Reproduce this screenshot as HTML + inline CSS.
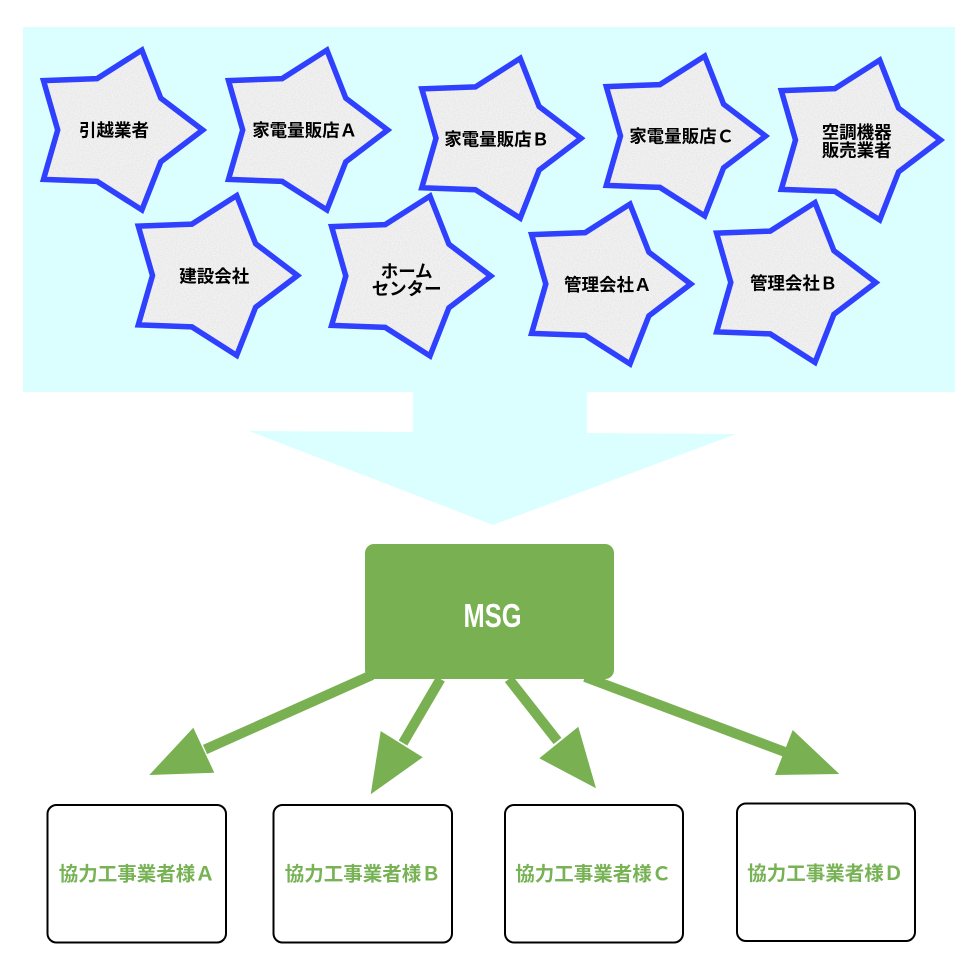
<!DOCTYPE html>
<html><head><meta charset="utf-8">
<style>
html,body{margin:0;padding:0;background:#fff;}
svg{display:block;}
text{font-family:"Liberation Sans","Noto Sans CJK JP",sans-serif;font-weight:bold;}
</style></head>
<body>
<svg width="970" height="960" viewBox="0 0 970 960" xmlns="http://www.w3.org/2000/svg">
<defs>
<filter id="tex" x="-5%" y="-5%" width="110%" height="110%">
<feTurbulence type="fractalNoise" baseFrequency="0.85" numOctaves="2" seed="3" result="n"/>
<feColorMatrix in="n" type="matrix" values="0.22 0 0 0 0.74  0.22 0 0 0 0.74  0.22 0 0 0 0.74  0 0 0 0 1" result="g"/>
<feComposite in="g" in2="SourceGraphic" operator="in"/>
</filter>
</defs>

<!-- cyan panel -->
<rect x="23" y="27" width="932" height="365" fill="#dbffff"/>
<polygon points="413,391 587,391 587,433 736,434 493,525 249,431 413,432" fill="#dbffff"/>

<!-- stars -->
<g stroke="none">
<g transform="translate(114.7,130)"><polygon filter="url(#tex)" fill="#000" points="88,0 46.1,31.8 27.2,79.9 -17.6,51.4 -71.2,49.4 -57,0 -71.2,-49.4 -17.6,-51.4 27.2,-79.9 46.1,-31.8"/></g>
<g transform="translate(299.7,130)"><polygon filter="url(#tex)" fill="#000" points="88,0 46.1,31.8 27.2,79.9 -17.6,51.4 -71.2,49.4 -57,0 -71.2,-49.4 -17.6,-51.4 27.2,-79.9 46.1,-31.8"/></g>
<g transform="translate(493,138.3)"><polygon filter="url(#tex)" fill="#000" points="88,0 46.1,31.8 27.2,79.9 -17.6,51.4 -71.2,49.4 -57,0 -71.2,-49.4 -17.6,-51.4 27.2,-79.9 46.1,-31.8"/></g>
<g transform="translate(677.5,136)"><polygon filter="url(#tex)" fill="#000" points="88,0 46.1,31.8 27.2,79.9 -17.6,51.4 -71.2,49.4 -57,0 -71.2,-49.4 -17.6,-51.4 27.2,-79.9 46.1,-31.8"/></g>
<g transform="translate(852.5,140)"><polygon filter="url(#tex)" fill="#000" points="88,0 46.1,31.8 27.2,79.9 -17.6,51.4 -71.2,49.4 -57,0 -71.2,-49.4 -17.6,-51.4 27.2,-79.9 46.1,-31.8"/></g>
<g transform="translate(209.5,275.5)"><polygon filter="url(#tex)" fill="#000" points="88,0 46.1,31.8 27.2,79.9 -17.6,51.4 -71.2,49.4 -57,0 -71.2,-49.4 -17.6,-51.4 27.2,-79.9 46.1,-31.8"/></g>
<g transform="translate(402.8,276)"><polygon filter="url(#tex)" fill="#000" points="88,0 46.1,31.8 27.2,79.9 -17.6,51.4 -71.2,49.4 -57,0 -71.2,-49.4 -17.6,-51.4 27.2,-79.9 46.1,-31.8"/></g>
<g transform="translate(602.8,284)"><polygon filter="url(#tex)" fill="#000" points="88,0 46.1,31.8 27.2,79.9 -17.6,51.4 -71.2,49.4 -57,0 -71.2,-49.4 -17.6,-51.4 27.2,-79.9 46.1,-31.8"/></g>
<g transform="translate(787.8,282.5)"><polygon filter="url(#tex)" fill="#000" points="88,0 46.1,31.8 27.2,79.9 -17.6,51.4 -71.2,49.4 -57,0 -71.2,-49.4 -17.6,-51.4 27.2,-79.9 46.1,-31.8"/></g>
</g>
<g fill="none" stroke="#2f40ff" stroke-width="5.5" stroke-linejoin="miter">
<polygon transform="translate(114.7,130)" points="88,0 46.1,31.8 27.2,79.9 -17.6,51.4 -71.2,49.4 -57,0 -71.2,-49.4 -17.6,-51.4 27.2,-79.9 46.1,-31.8"/>
<polygon transform="translate(299.7,130)" points="88,0 46.1,31.8 27.2,79.9 -17.6,51.4 -71.2,49.4 -57,0 -71.2,-49.4 -17.6,-51.4 27.2,-79.9 46.1,-31.8"/>
<polygon transform="translate(493,138.3)" points="88,0 46.1,31.8 27.2,79.9 -17.6,51.4 -71.2,49.4 -57,0 -71.2,-49.4 -17.6,-51.4 27.2,-79.9 46.1,-31.8"/>
<polygon transform="translate(677.5,136)" points="88,0 46.1,31.8 27.2,79.9 -17.6,51.4 -71.2,49.4 -57,0 -71.2,-49.4 -17.6,-51.4 27.2,-79.9 46.1,-31.8"/>
<polygon transform="translate(852.5,140)" points="88,0 46.1,31.8 27.2,79.9 -17.6,51.4 -71.2,49.4 -57,0 -71.2,-49.4 -17.6,-51.4 27.2,-79.9 46.1,-31.8"/>
<polygon transform="translate(209.5,275.5)" points="88,0 46.1,31.8 27.2,79.9 -17.6,51.4 -71.2,49.4 -57,0 -71.2,-49.4 -17.6,-51.4 27.2,-79.9 46.1,-31.8"/>
<polygon transform="translate(402.8,276)" points="88,0 46.1,31.8 27.2,79.9 -17.6,51.4 -71.2,49.4 -57,0 -71.2,-49.4 -17.6,-51.4 27.2,-79.9 46.1,-31.8"/>
<polygon transform="translate(602.8,284)" points="88,0 46.1,31.8 27.2,79.9 -17.6,51.4 -71.2,49.4 -57,0 -71.2,-49.4 -17.6,-51.4 27.2,-79.9 46.1,-31.8"/>
<polygon transform="translate(787.8,282.5)" points="88,0 46.1,31.8 27.2,79.9 -17.6,51.4 -71.2,49.4 -57,0 -71.2,-49.4 -17.6,-51.4 27.2,-79.9 46.1,-31.8"/>
</g>

<!-- star labels -->
<g fill="#000" font-size="17.5" text-anchor="middle">
<text x="114" y="136.7">引越業者</text>
<text x="304.7" y="136.7">家電量販店Ａ</text>
<text x="496.7" y="145.7">家電量販店Ｂ</text>
<text x="681.7" y="142.7">家電量販店Ｃ</text>
<text x="856.7" y="138.4">空調機器</text>
<text x="856.7" y="156.7">販売業者</text>
<text x="214.3" y="282.7">建設会社</text>
<text x="406.7" y="277.7">ホーム</text>
<text x="406.7" y="295.2">センター</text>
<text x="607.8" y="291">管理会社Ａ</text>
<text x="793.7" y="289.4">管理会社Ｂ</text>
</g>

<!-- MSG box -->
<rect x="365" y="544" width="249" height="135" rx="9" ry="9" fill="#79b152"/>
<text x="492.5" y="627" font-size="33" fill="#fff" text-anchor="middle" textLength="58" lengthAdjust="spacingAndGlyphs">MSG</text>

<!-- arrows -->
<g stroke="#79b152" stroke-width="10" fill="none">
<line x1="372" y1="675" x2="205" y2="749.5"/>
<line x1="440.5" y1="679" x2="403" y2="743"/>
<line x1="508.8" y1="679" x2="557.5" y2="741"/>
<line x1="585" y1="677" x2="785" y2="752"/>
</g>
<g fill="#79b152">
<polygon points="149.3,775 193.3,727.7 214.3,772.7"/>
<polygon points="370.7,794.3 380.7,731 422.7,757.3"/>
<polygon points="596,788.3 578.3,726.7 539.3,758.3"/>
<polygon points="839.3,774 792.7,730 775,775"/>
</g>

<!-- bottom boxes -->
<g fill="#fff" stroke="#000" stroke-width="2">
<rect x="47.5" y="805" width="178.5" height="137.5" rx="9" ry="9"/>
<rect x="273.5" y="805" width="178.5" height="137.5" rx="9" ry="9"/>
<rect x="505" y="805" width="178" height="137.5" rx="9" ry="9"/>
<rect x="737" y="803.5" width="178" height="137.5" rx="9" ry="9"/>
</g>
<g fill="#77b255" font-size="19.5" text-anchor="middle">
<text x="136.7" y="880.7">協力工事業者様Ａ</text>
<text x="362.7" y="880.4">協力工事業者様Ｂ</text>
<text x="593.3" y="880.7">協力工事業者様Ｃ</text>
<text x="825.3" y="880.1">協力工事業者様Ｄ</text>
</g>
</svg>
</body></html>
